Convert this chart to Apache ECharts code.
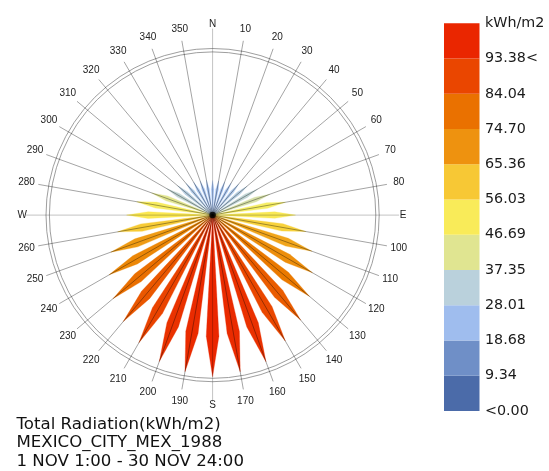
<!DOCTYPE html>
<html>
<head>
<meta charset="utf-8">
<script src="https://cdn.jsdelivr.net/npm/echarts@6/dist/echarts.min.js"></script>
<style>
  html, body { margin: 0; padding: 0; background: #ffffff; }
  #chart { width: 549px; height: 471px; }
</style>
</head>
<body>
<div id="chart"></div>
<script>
// Compass directions of the rose, degrees clockwise from north
const directions = [0, 10, 20, 30, 40, 50, 60, 70, 80, 90, 100, 110, 120, 130, 140, 150, 160, 170,
                    180, 190, 200, 210, 220, 230, 240, 250, 260, 270, 280, 290, 300, 310, 320, 330, 340, 350];

// Total radiation received from each direction (kWh/m2)
const radiation = [20.0, 20.0, 20.5, 21.5, 23.5, 26.0, 30.0, 35.2, 42.7, 47.9, 54.7, 61.0, 66.6, 73.1, 79.2, 84.0, 90.1, 91.9,
                   93.38, 91.8, 90.0, 85.1, 80.3, 75.1, 69.0, 62.6, 55.7, 49.7, 44.5, 37.5, 30.5, 26.5, 24.0, 22.0, 21.0, 20.5];

// Labels written around the compass ring
const directionLabels = ['N', '10', '20', '30', '40', '50', '60', '70', '80', 'E', '100', '110', '120', '130', '140', '150', '160', '170',
                         'S', '190', '200', '210', '220', '230', '240', '250', '260', 'W', '280', '290', '300', '310', '320', '330', '340', '350'];

// Legend: boundary labels from the bottom cell up, then the unit on top
const legendLabels = ['<0.00', '9.34', '18.68', '28.01', '37.35', '46.69', '56.03', '65.36', '74.70', '84.04', '93.38<', 'kWh/m2'];
const legendMin = 0;
const legendMax = 93.38;
const legendSteps = 11;

// Caption under the rose
const captionLines = ['Total Radiation(kWh/m2)', 'MEXICO_CITY_MEX_1988', '1 NOV 1:00 - 30 NOV 24:00'];

// Colour ramp, low to high
const ramp = [[75, 107, 169], [115, 147, 202], [170, 200, 247], [193, 213, 208], [245, 239, 103],
              [252, 230, 74], [239, 156, 21], [234, 123, 0], [234, 74, 0], [234, 38, 0]];

function rampColor(t) {
  t = Math.max(0, Math.min(1, t));
  const p = t * (ramp.length - 1);
  const i = Math.min(Math.floor(p), ramp.length - 2);
  const f = p - i;
  const a = ramp[i], b = ramp[i + 1];
  return 'rgb(' + a.map((c, k) => Math.round(c + (b[k] - c) * f)).join(',') + ')';
}

const CENTER = [212.6, 215.1];
const RING_INNER = 163.2;   // px, also the length of the full radiation scale
const RING_OUTER = 166.6;   // px
const FRAME = 190;          // px, frame polar for spokes and labels
const PETAL_SCALE_MAX = legendMax * RING_INNER / 161.7;
const PETAL_HALF_ANGLE = 3.0;   // degrees at the widest point
const PETAL_WAIST = 0.75;       // fraction of the length where a petal is widest

const chart = echarts.init(document.getElementById('chart'), null, { renderer: 'canvas' });

const ringAxis = (idx, showLine) => ({
  polarIndex: idx,
  type: 'value',
  min: 0,
  max: 360,
  startAngle: 90,
  clockwise: true,
  axisLine: { show: showLine, lineStyle: { color: '#858585', width: 0.8 } },
  axisTick: { show: false },
  axisLabel: { show: false },
  splitLine: { show: false },
  splitArea: { show: false }
});

const option = {
  animation: false,
  backgroundColor: '#ffffff',
  title: {
    text: captionLines.join('\n'),
    left: 16.5,
    top: 415,
    padding: 0,
    textStyle: {
      fontFamily: 'DejaVu Sans',
      fontSize: 16.6,
      fontWeight: 'normal',
      color: '#111111',
      lineHeight: 18.7
    }
  },
  polar: [
    { center: CENTER, radius: RING_INNER },
    { center: CENTER, radius: RING_OUTER },
    { center: CENTER, radius: FRAME }
  ],
  angleAxis: [ringAxis(0, true), ringAxis(1, true), ringAxis(2, false)],
  radiusAxis: [
    { polarIndex: 0, type: 'value', min: 0, max: PETAL_SCALE_MAX, show: false },
    { polarIndex: 1, type: 'value', min: 0, max: 1, show: false },
    { polarIndex: 2, type: 'value', min: 0, max: FRAME, show: false }
  ],
  grid: {
    left: 444,
    top: 23.3,
    width: 35.5,
    height: 387.7,
    outerBoundsMode: 'none',
    containLabel: false
  },
  xAxis: { gridIndex: 0, type: 'value', min: 0, max: 1, show: false },
  yAxis: {
    gridIndex: 0,
    type: 'value',
    min: 0,
    max: legendSteps,
    interval: 1,
    position: 'right',
    axisLine: { show: false },
    axisTick: { show: false },
    splitLine: { show: false },
    axisLabel: {
      show: true,
      margin: 5.5,
      fontFamily: 'DejaVu Sans',
      fontSize: 14.3,
      color: '#1a1a1a',
      align: 'left',
      verticalAlign: 'middle',
      padding: [0, 0, 8, 0],
      showMinLabel: true,
      showMaxLabel: true,
      formatter: v => legendLabels[v]
    }
  },
  series: [
    {
      // radiation petals
      type: 'custom',
      coordinateSystem: 'polar',
      polarIndex: 0,
      z: 2,
      data: directions.map((d, i) => [radiation[i], d]),
      encode: { radius: 0, angle: 1 },
      renderItem: (params, api) => {
        const v = api.value(0), a = api.value(1);
        const pts = [
          api.coord([0, a]),
          api.coord([v * PETAL_WAIST, a - PETAL_HALF_ANGLE]),
          api.coord([v, a]),
          api.coord([v * PETAL_WAIST, a + PETAL_HALF_ANGLE])
        ];
        const c = rampColor((v - legendMin) / (legendMax - legendMin));
        return {
          type: 'polygon',
          shape: { points: pts },
          style: { fill: c, stroke: c, lineWidth: 0.3 }
        };
      }
    },
    {
      // spokes drawn over the petals
      type: 'custom',
      coordinateSystem: 'polar',
      polarIndex: 2,
      z: 5,
      data: directions.map(d => [d % 90 === 0 ? 186.5 : 177, d]),
      encode: { radius: 0, angle: 1 },
      renderItem: (params, api) => {
        const r = api.value(0), a = api.value(1);
        const p0 = api.coord([0, a]);
        const p1 = api.coord([r, a]);
        return {
          type: 'line',
          shape: { x1: p0[0], y1: p0[1], x2: p1[0], y2: p1[1] },
          style: {
            stroke: a % 90 === 0 ? 'rgba(0,0,0,0.3)' : 'rgba(0,0,0,0.45)',
            lineWidth: 0.8
          }
        };
      }
    },
    {
      // direction labels round the ring
      type: 'custom',
      coordinateSystem: 'polar',
      polarIndex: 2,
      z: 6,
      data: directions.map((d, i) => [d % 90 === 0 ? 190.5 : 189, d, directionLabels[i]]),
      encode: { radius: 0, angle: 1 },
      renderItem: (params, api) => {
        const p = api.coord([api.value(0), api.value(1)]);
        return {
          type: 'text',
          x: p[0],
          y: p[1],
          style: {
            text: directionLabels[params.dataIndex],
            fill: '#222222',
            fontFamily: 'Liberation Sans',
            fontSize: 10,
            align: 'center',
            verticalAlign: 'middle'
          }
        };
      }
    },
    {
      // hub at the centre of the rose
      type: 'scatter',
      coordinateSystem: 'polar',
      polarIndex: 0,
      z: 7,
      symbol: 'circle',
      symbolSize: 6.5,
      itemStyle: { color: '#000000' },
      data: [[0, 0]]
    },
    {
      // colour legend cells
      type: 'custom',
      coordinateSystem: 'cartesian2d',
      xAxisIndex: 0,
      yAxisIndex: 0,
      data: legendLabels.slice(0, legendSteps).map((l, k) => [k]),
      renderItem: (params, api) => {
        const k = api.value(0);
        const lo = api.coord([0, k]);
        const hi = api.coord([1, k + 1]);
        return {
          type: 'rect',
          shape: { x: lo[0], y: hi[1], width: hi[0] - lo[0], height: lo[1] - hi[1] },
          style: { fill: rampColor(k / (legendSteps - 1)) }
        };
      }
    }
  ]
};

chart.setOption(option);
</script>
</body>
</html>
